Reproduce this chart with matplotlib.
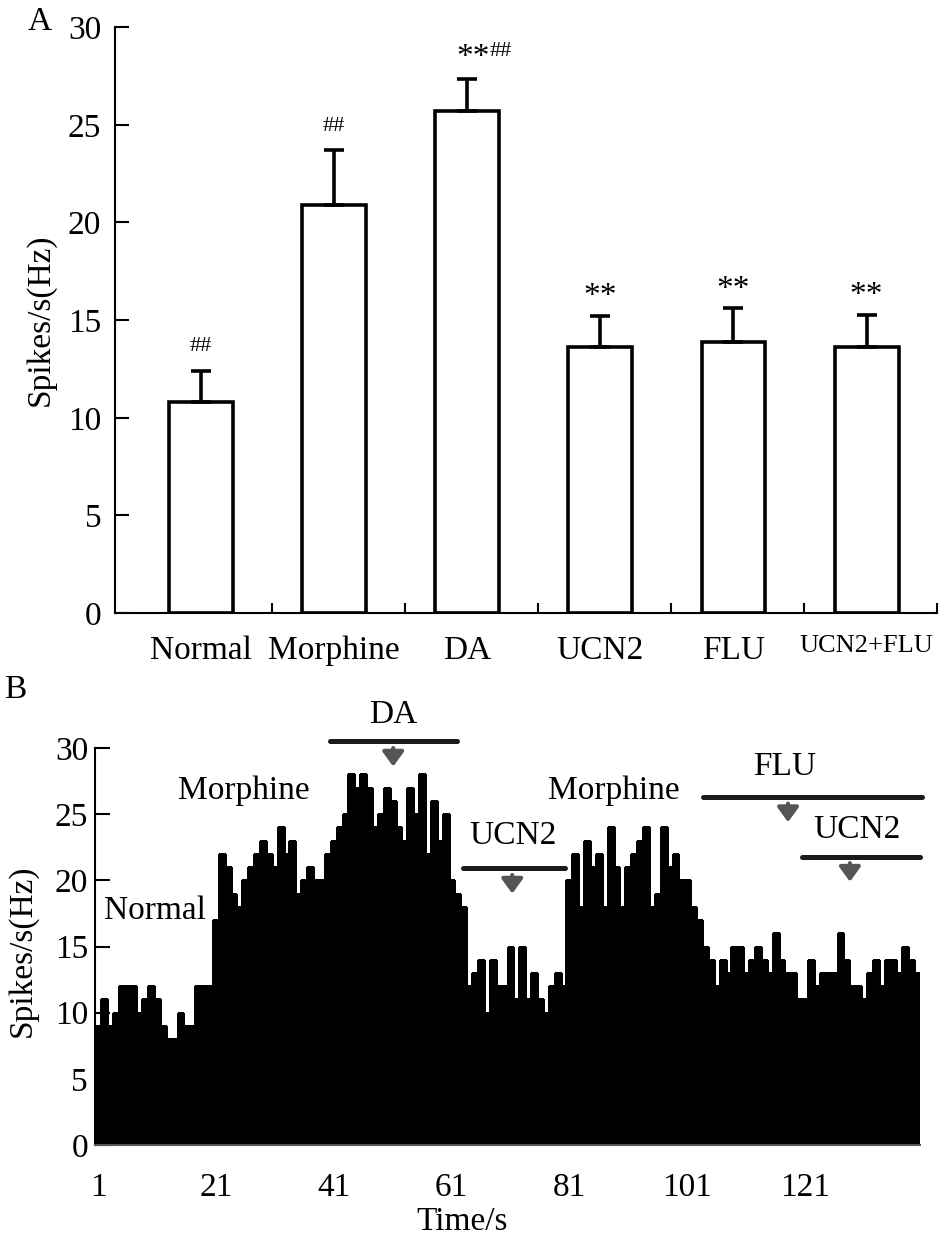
import numpy as np
import matplotlib
matplotlib.use('Agg')
import matplotlib.pyplot as plt

plt.rcParams['font.family'] = ['Liberation Serif', 'DejaVu Serif']

# ---- panel A: mean firing rate per group ----
groups = ['Normal', 'Morphine', 'DA', 'UCN2', 'FLU', 'UCN2+FLU']
mean_rate = [10.8, 20.9, 25.7, 13.6, 13.9, 13.6]
sem_rate = [1.6, 2.8, 1.65, 1.6, 1.7, 1.65]
stars = ['', '', '**', '**', '**', '**']
hashes = ['##', '##', '##', '', '', '']

# ---- panel B: spikes per 1 s bin ----
rate_normal = [9, 11, 9, 10, 12, 12, 12, 10, 11, 12, 11, 9, 8, 8, 10, 9, 9, 12, 12, 12]
rate_morphine1 = [17, 22, 21, 19, 18, 20, 21, 22, 23, 22, 21, 24, 22, 23, 19, 20, 21, 20, 20, 22]
rate_da = [23, 24, 25, 28, 27, 28, 27, 24, 25, 27, 26, 24, 23, 27, 25, 28, 22, 26, 23, 25,
           20, 19, 18]
rate_ucn2 = [12, 13, 14, 10, 14, 12, 12, 15, 11, 15, 11, 13, 11, 10, 12, 13, 12]
rate_morphine2 = [20, 22, 18, 23, 21, 22, 18, 24, 21, 18, 21, 22, 23, 24, 18, 19]
rate_flu = [24, 21, 22, 20, 20, 18, 17, 15, 14, 12, 14, 13, 15, 15, 13, 14, 15, 14, 13, 16,
            14, 13, 13, 11, 11]
rate_ucn2_flu = [14, 12, 13, 13, 13, 16, 14, 12, 12, 11, 13, 14, 12, 14, 14, 13, 15, 14, 13]
time_ticks = [1, 21, 41, 61, 81, 101, 121]

rate = np.array(rate_normal + rate_morphine1 + rate_da + rate_ucn2 +
                rate_morphine2 + rate_flu + rate_ucn2_flu)
t = np.arange(1, len(rate) + 1)

fig = plt.figure(figsize=(9.39, 12.36), dpi=100)

# ================= A =================
axA = fig.add_axes([0.1225, 0.504, 0.8755, 0.474])
x = np.arange(len(groups))
axA.bar(x, mean_rate, width=0.48, color='white', edgecolor='black', linewidth=2.6, zorder=2)
axA.errorbar(x, mean_rate, yerr=[np.zeros(len(x)), sem_rate], fmt='none', ecolor='black',
             elinewidth=2.6, capsize=7, capthick=2.6, zorder=3)

for i in range(len(groups)):
    top = mean_rate[i] + sem_rate[i]
    if stars[i] and hashes[i]:
        axA.text(x[i] + 0.17, top + 0.3, stars[i], ha='right', va='bottom', fontsize=24)
        axA.text(x[i] + 0.17, top + 0.9, hashes[i], ha='left', va='bottom', fontsize=16)
    elif stars[i]:
        axA.text(x[i], top + 0.2, stars[i], ha='center', va='bottom', fontsize=24)
    else:
        axA.text(x[i], top + 0.75, hashes[i], ha='center', va='bottom', fontsize=16)

axA.set_xlim(-0.646, 5.526)
axA.set_ylim(0, 30)
axA.set_yticks(range(0, 31, 5))
axA.set_xticks(x)
axA.set_xticklabels(groups, fontsize=24)
axA.get_xticklabels()[-1].set_fontsize(19)
axA.set_xticks(x + 0.53, minor=True)
axA.tick_params(axis='x', which='major', length=0, pad=16)
axA.tick_params(axis='x', which='minor', direction='in', length=7, width=1.5)
axA.tick_params(axis='y', direction='in', length=10, width=1.5, labelsize=24, pad=10)
for s in ['top', 'right']:
    axA.spines[s].set_visible(False)
for s in ['left', 'bottom']:
    axA.spines[s].set_linewidth(1.5)
axA.set_ylabel('Spikes/s(Hz)', fontsize=24)
axA.yaxis.set_label_coords(-0.072, 0.5)
fig.text(0.0426, 0.982, 'A', fontsize=24, ha='center', va='center')

# ================= B =================
axB = fig.add_axes([0.1012, 0.0736, 0.8786, 0.3212])
axB.bar(t, rate, width=1.0, color='black', edgecolor='black', linewidth=1.0, antialiased=False)
axB.set_xlim(0.5, len(rate) + 0.5)
axB.set_ylim(0, 30)
axB.set_yticks(range(0, 31, 5))
axB.set_xticks(time_ticks)
axB.tick_params(axis='x', length=0, labelsize=24, pad=20)
axB.tick_params(axis='y', direction='in', length=11, width=1.5, labelsize=24, pad=5)
for s in ['top', 'right']:
    axB.spines[s].set_visible(False)
axB.spines['left'].set_linewidth(1.5)
axB.spines['bottom'].set_linewidth(1.5)
axB.spines['bottom'].set_color('#555555')
axB.set_xlabel('Time/s', fontsize=24)
axB.xaxis.set_label_coords(0.445, -0.155)
axB.set_ylabel('Spikes/s(Hz)', fontsize=24)
axB.yaxis.set_label_coords(-0.069, 0.49)
fig.text(0.016, 0.442, 'B', fontsize=24, ha='center', va='center')

# condition labels
axB.text(10.7, 17.7, 'Normal', fontsize=24, ha='center', va='center')
axB.text(25.8, 26.8, 'Morphine', fontsize=24, ha='center', va='center')
axB.text(88.6, 26.8, 'Morphine', fontsize=24, ha='center', va='center')

# drug application bars: label, line start, line end, line y, label y, arrow x
drug_label = ['DA', 'UCN2', 'FLU', 'UCN2']
drug_start = [40.4, 62.9, 103.7, 120.5]
drug_end = [61.9, 80.3, 140.8, 140.5]
drug_line_y = [30.5, 20.9, 26.3, 21.8]
drug_text_x = [51.1, 71.4, 117.6, 129.8]
drug_text_y = [32.5, 23.4, 28.6, 23.8]
drug_arrow_x = [51.1, 71.3, 118.1, 128.6]
for lab, x0, x1, ly, tx, ty, axx in zip(drug_label, drug_start, drug_end, drug_line_y,
                                         drug_text_x, drug_text_y, drug_arrow_x):
    axB.plot([x0, x1], [ly, ly], color='#1a1a1a', lw=3.6, solid_capstyle='round', clip_on=False)
    axB.text(tx, ty, lab, fontsize=24, ha='center', va='center', clip_on=False)
    axB.annotate('', xy=(axx, ly - 1.9), xytext=(axx, ly - 0.5),
                 arrowprops=dict(arrowstyle='-|>,head_length=0.55,head_width=0.4',
                                 color='#555555', lw=3, mutation_scale=16,
                                 shrinkA=0, shrinkB=0),
                 annotation_clip=False)

fig.savefig('out.png', dpi=100)
